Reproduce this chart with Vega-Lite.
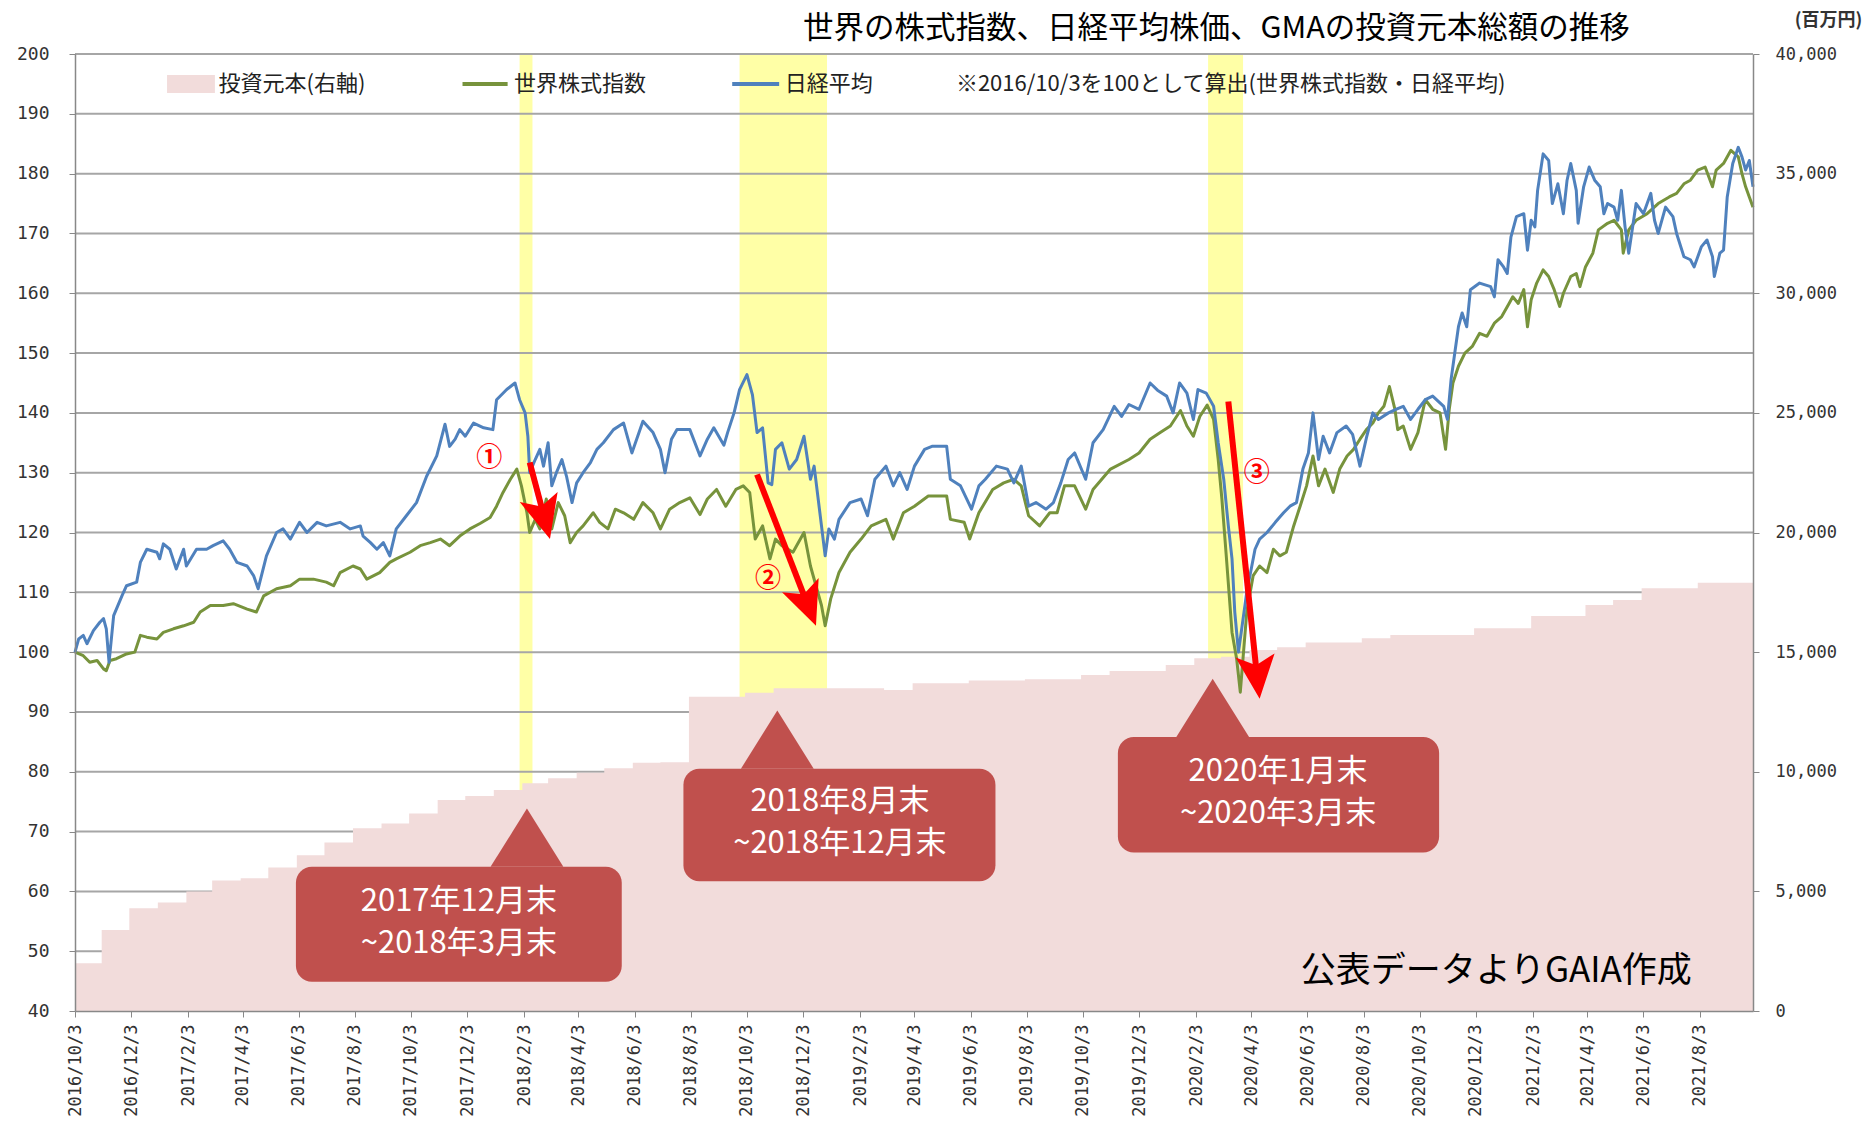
{
  "$schema": "https://vega.github.io/schema/vega-lite/v6.json",
  "width": 1678,
  "height": 957,
  "autosize": {"type": "none"},
  "padding": {"left": 75, "top": 54, "right": 121, "bottom": 114},
  "background": "white",
  "title": {"text": "世界の株式指数、日経平均株価、GMAの投資元本総額の推移", "anchor": "start", "frame": "group", "dx": 728, "offset": -33, "fontSize": 30.5, "font": "Noto Sans CJK JP", "fontWeight": "normal", "color": "#000000"},
  "config": {"view": {"stroke": null}},
  "resolve": {"scale": {"y": "independent"}, "axis": {"y": "independent"}},
  "datasets": {
    "bands": [
      {"date": "2018-01-29", "date2": "2018-02-12"},
      {"date": "2018-09-25", "date2": "2018-12-29"},
      {"date": "2020-02-16", "date2": "2020-03-25"}
    ],
    "grid": [{"v": 50}, {"v": 60}, {"v": 70}, {"v": 80}, {"v": 90}, {"v": 100}, {"v": 110}, {"v": 120}, {"v": 130}, {"v": 140}, {"v": 150}, {"v": 160}, {"v": 170}, {"v": 180}, {"v": 190}, {"v": 200}],
    "principal": [
      {"date": "2016-10-03", "amt": 2000}, {"date": "2016-11-01", "amt": 3390}, {"date": "2016-12-01", "amt": 4290},
      {"date": "2017-01-01", "amt": 4540}, {"date": "2017-02-01", "amt": 4990}, {"date": "2017-03-01", "amt": 5450},
      {"date": "2017-04-01", "amt": 5550}, {"date": "2017-05-01", "amt": 6000}, {"date": "2017-06-01", "amt": 6510},
      {"date": "2017-07-01", "amt": 7040}, {"date": "2017-08-01", "amt": 7640}, {"date": "2017-09-01", "amt": 7840},
      {"date": "2017-10-01", "amt": 8260}, {"date": "2017-11-01", "amt": 8820}, {"date": "2017-12-01", "amt": 8990},
      {"date": "2018-01-01", "amt": 9240}, {"date": "2018-02-01", "amt": 9520}, {"date": "2018-03-01", "amt": 9730},
      {"date": "2018-04-01", "amt": 9960}, {"date": "2018-05-01", "amt": 10150}, {"date": "2018-06-01", "amt": 10380},
      {"date": "2018-07-01", "amt": 10400}, {"date": "2018-08-01", "amt": 13140}, {"date": "2018-09-01", "amt": 13140},
      {"date": "2018-10-01", "amt": 13300}, {"date": "2018-11-01", "amt": 13490}, {"date": "2018-12-01", "amt": 13490},
      {"date": "2019-01-01", "amt": 13490}, {"date": "2019-02-01", "amt": 13490}, {"date": "2019-03-01", "amt": 13420},
      {"date": "2019-04-01", "amt": 13700}, {"date": "2019-05-01", "amt": 13700}, {"date": "2019-06-01", "amt": 13810},
      {"date": "2019-07-01", "amt": 13810}, {"date": "2019-08-01", "amt": 13870}, {"date": "2019-09-01", "amt": 13870},
      {"date": "2019-10-01", "amt": 14040}, {"date": "2019-11-01", "amt": 14210}, {"date": "2019-12-01", "amt": 14210},
      {"date": "2020-01-01", "amt": 14460}, {"date": "2020-02-01", "amt": 14740}, {"date": "2020-03-01", "amt": 14810},
      {"date": "2020-04-01", "amt": 15090}, {"date": "2020-05-01", "amt": 15200}, {"date": "2020-06-01", "amt": 15400},
      {"date": "2020-07-01", "amt": 15400}, {"date": "2020-08-01", "amt": 15580}, {"date": "2020-09-01", "amt": 15720},
      {"date": "2020-10-01", "amt": 15720}, {"date": "2020-11-01", "amt": 15720}, {"date": "2020-12-01", "amt": 16000},
      {"date": "2021-01-01", "amt": 16000}, {"date": "2021-02-01", "amt": 16510}, {"date": "2021-03-01", "amt": 16510},
      {"date": "2021-04-01", "amt": 16970}, {"date": "2021-05-01", "amt": 17180}, {"date": "2021-06-01", "amt": 17670},
      {"date": "2021-07-01", "amt": 17670}, {"date": "2021-08-01", "amt": 17900}, {"date": "2021-09-01", "amt": 17900},
      {"date": "2021-09-30", "amt": 17900}
    ],
    "world": [
      {"date": "2016-10-03", "v": 100}, {"date": "2016-10-12", "v": 99.4}, {"date": "2016-10-19", "v": 98.3}, {"date": "2016-10-27", "v": 98.6},
      {"date": "2016-11-03", "v": 97.2}, {"date": "2016-11-06", "v": 96.9}, {"date": "2016-11-10", "v": 98.6}, {"date": "2016-11-17", "v": 98.9},
      {"date": "2016-11-28", "v": 99.7}, {"date": "2016-12-07", "v": 100}, {"date": "2016-12-13", "v": 102.8}, {"date": "2016-12-20", "v": 102.5},
      {"date": "2016-12-31", "v": 102.2}, {"date": "2017-01-07", "v": 103.3}, {"date": "2017-01-18", "v": 103.9}, {"date": "2017-01-29", "v": 104.4},
      {"date": "2017-02-09", "v": 105}, {"date": "2017-02-16", "v": 106.7}, {"date": "2017-02-27", "v": 107.8}, {"date": "2017-03-13", "v": 107.8},
      {"date": "2017-03-24", "v": 108.1}, {"date": "2017-04-08", "v": 107.2}, {"date": "2017-04-18", "v": 106.7}, {"date": "2017-04-26", "v": 109.4},
      {"date": "2017-05-10", "v": 110.6}, {"date": "2017-05-25", "v": 111.1}, {"date": "2017-06-04", "v": 112.2}, {"date": "2017-06-19", "v": 112.2},
      {"date": "2017-07-03", "v": 111.7}, {"date": "2017-07-11", "v": 111.1}, {"date": "2017-07-18", "v": 113.3}, {"date": "2017-08-01", "v": 114.4},
      {"date": "2017-08-09", "v": 113.9}, {"date": "2017-08-16", "v": 112.2}, {"date": "2017-08-30", "v": 113.3}, {"date": "2017-09-10", "v": 115},
      {"date": "2017-09-17", "v": 115.6}, {"date": "2017-10-02", "v": 116.7}, {"date": "2017-10-13", "v": 117.8}, {"date": "2017-10-24", "v": 118.3},
      {"date": "2017-11-04", "v": 118.9}, {"date": "2017-11-14", "v": 117.8}, {"date": "2017-11-25", "v": 119.4}, {"date": "2017-12-06", "v": 120.6},
      {"date": "2017-12-17", "v": 121.5}, {"date": "2017-12-28", "v": 122.5}, {"date": "2018-01-04", "v": 124.4}, {"date": "2018-01-11", "v": 126.7},
      {"date": "2018-01-19", "v": 128.9}, {"date": "2018-01-26", "v": 130.6}, {"date": "2018-01-31", "v": 127.8}, {"date": "2018-02-06", "v": 123.3},
      {"date": "2018-02-09", "v": 120}, {"date": "2018-02-15", "v": 122.2}, {"date": "2018-02-20", "v": 120.6}, {"date": "2018-02-27", "v": 125.6},
      {"date": "2018-03-05", "v": 120.6}, {"date": "2018-03-12", "v": 125}, {"date": "2018-03-19", "v": 122.8}, {"date": "2018-03-25", "v": 118.3},
      {"date": "2018-04-01", "v": 120}, {"date": "2018-04-08", "v": 121.1}, {"date": "2018-04-19", "v": 123.3}, {"date": "2018-04-26", "v": 121.7},
      {"date": "2018-05-05", "v": 120.6}, {"date": "2018-05-13", "v": 123.9}, {"date": "2018-05-22", "v": 123.3}, {"date": "2018-06-02", "v": 122.2},
      {"date": "2018-06-12", "v": 125}, {"date": "2018-06-23", "v": 123.3}, {"date": "2018-07-01", "v": 120.6}, {"date": "2018-07-11", "v": 123.9},
      {"date": "2018-07-22", "v": 125}, {"date": "2018-08-02", "v": 125.8}, {"date": "2018-08-13", "v": 123}, {"date": "2018-08-21", "v": 125.6},
      {"date": "2018-08-31", "v": 127.2}, {"date": "2018-09-10", "v": 124.4}, {"date": "2018-09-21", "v": 127.2}, {"date": "2018-09-29", "v": 127.8},
      {"date": "2018-10-06", "v": 126.7}, {"date": "2018-10-12", "v": 118.9}, {"date": "2018-10-20", "v": 121.1}, {"date": "2018-10-28", "v": 115.6},
      {"date": "2018-11-03", "v": 118.9}, {"date": "2018-11-10", "v": 117.8}, {"date": "2018-11-22", "v": 116.7}, {"date": "2018-12-04", "v": 120},
      {"date": "2018-12-11", "v": 114.4}, {"date": "2018-12-23", "v": 107.8}, {"date": "2018-12-27", "v": 104.4}, {"date": "2019-01-02", "v": 108.9},
      {"date": "2019-01-11", "v": 113.3}, {"date": "2019-01-23", "v": 116.7}, {"date": "2019-02-04", "v": 118.9}, {"date": "2019-02-15", "v": 121.1},
      {"date": "2019-03-03", "v": 122.2}, {"date": "2019-03-11", "v": 118.9}, {"date": "2019-03-22", "v": 123.3}, {"date": "2019-04-03", "v": 124.4},
      {"date": "2019-04-18", "v": 126.1}, {"date": "2019-05-08", "v": 126.1}, {"date": "2019-05-12", "v": 122.2}, {"date": "2019-05-27", "v": 121.7},
      {"date": "2019-06-02", "v": 118.9}, {"date": "2019-06-12", "v": 123.3}, {"date": "2019-06-27", "v": 127.2}, {"date": "2019-07-09", "v": 128.3},
      {"date": "2019-07-20", "v": 128.9}, {"date": "2019-07-28", "v": 127.8}, {"date": "2019-08-05", "v": 122.8}, {"date": "2019-08-17", "v": 121.1},
      {"date": "2019-08-28", "v": 123.3}, {"date": "2019-09-05", "v": 123.3}, {"date": "2019-09-13", "v": 127.8}, {"date": "2019-09-24", "v": 127.8},
      {"date": "2019-10-06", "v": 123.9}, {"date": "2019-10-14", "v": 127.2}, {"date": "2019-11-02", "v": 130.6}, {"date": "2019-11-22", "v": 132.2},
      {"date": "2019-12-03", "v": 133.3}, {"date": "2019-12-15", "v": 135.6}, {"date": "2019-12-26", "v": 136.7}, {"date": "2020-01-06", "v": 137.8},
      {"date": "2020-01-17", "v": 140.4}, {"date": "2020-01-24", "v": 137.8}, {"date": "2020-01-31", "v": 136.1}, {"date": "2020-02-07", "v": 139.4},
      {"date": "2020-02-15", "v": 141.3}, {"date": "2020-02-22", "v": 138.9}, {"date": "2020-02-27", "v": 132.2}, {"date": "2020-03-02", "v": 125.6},
      {"date": "2020-03-07", "v": 115.6}, {"date": "2020-03-13", "v": 103.3}, {"date": "2020-03-18", "v": 98.9}, {"date": "2020-03-22", "v": 93.3},
      {"date": "2020-03-29", "v": 106.7}, {"date": "2020-04-05", "v": 112.8}, {"date": "2020-04-12", "v": 114.4}, {"date": "2020-04-20", "v": 113.3},
      {"date": "2020-04-27", "v": 117.2}, {"date": "2020-05-04", "v": 116.1}, {"date": "2020-05-11", "v": 116.7}, {"date": "2020-05-19", "v": 121.1},
      {"date": "2020-05-26", "v": 124.4}, {"date": "2020-06-02", "v": 127.8}, {"date": "2020-06-09", "v": 132.8}, {"date": "2020-06-15", "v": 127.8},
      {"date": "2020-06-22", "v": 130.6}, {"date": "2020-07-01", "v": 126.7}, {"date": "2020-07-08", "v": 130.6}, {"date": "2020-07-16", "v": 132.8},
      {"date": "2020-07-23", "v": 133.9}, {"date": "2020-07-30", "v": 135.6}, {"date": "2020-08-06", "v": 137.2}, {"date": "2020-08-13", "v": 138.3},
      {"date": "2020-08-19", "v": 140}, {"date": "2020-08-25", "v": 141.1}, {"date": "2020-08-31", "v": 144.4}, {"date": "2020-09-06", "v": 140.6},
      {"date": "2020-09-09", "v": 137.2}, {"date": "2020-09-15", "v": 137.8}, {"date": "2020-09-23", "v": 133.9}, {"date": "2020-10-01", "v": 136.7},
      {"date": "2020-10-09", "v": 142.2}, {"date": "2020-10-17", "v": 140.6}, {"date": "2020-10-25", "v": 140}, {"date": "2020-10-31", "v": 133.9},
      {"date": "2020-11-04", "v": 140.6}, {"date": "2020-11-08", "v": 145}, {"date": "2020-11-14", "v": 147.8}, {"date": "2020-11-21", "v": 150},
      {"date": "2020-11-29", "v": 151.1}, {"date": "2020-12-07", "v": 153.3}, {"date": "2020-12-15", "v": 152.8}, {"date": "2020-12-23", "v": 155},
      {"date": "2020-12-31", "v": 156.1}, {"date": "2021-01-08", "v": 158.3}, {"date": "2021-01-12", "v": 159.4}, {"date": "2021-01-18", "v": 158.3},
      {"date": "2021-01-24", "v": 160.6}, {"date": "2021-01-28", "v": 154.4}, {"date": "2021-02-01", "v": 158.9}, {"date": "2021-02-07", "v": 161.7},
      {"date": "2021-02-14", "v": 163.9}, {"date": "2021-02-20", "v": 162.8}, {"date": "2021-02-26", "v": 160.6}, {"date": "2021-03-04", "v": 157.8},
      {"date": "2021-03-08", "v": 160}, {"date": "2021-03-16", "v": 162.8}, {"date": "2021-03-22", "v": 163.3}, {"date": "2021-03-26", "v": 161.1},
      {"date": "2021-04-01", "v": 164.4}, {"date": "2021-04-09", "v": 166.7}, {"date": "2021-04-15", "v": 170.6}, {"date": "2021-04-25", "v": 171.7},
      {"date": "2021-05-02", "v": 172.2}, {"date": "2021-05-10", "v": 170.6}, {"date": "2021-05-12", "v": 166.7}, {"date": "2021-05-18", "v": 170.6},
      {"date": "2021-05-26", "v": 172.2}, {"date": "2021-06-07", "v": 173.3}, {"date": "2021-06-19", "v": 175}, {"date": "2021-07-01", "v": 176.1},
      {"date": "2021-07-09", "v": 176.7}, {"date": "2021-07-17", "v": 178.3}, {"date": "2021-07-24", "v": 178.9}, {"date": "2021-08-01", "v": 180.6},
      {"date": "2021-08-09", "v": 181.1}, {"date": "2021-08-17", "v": 177.8}, {"date": "2021-08-21", "v": 180.6}, {"date": "2021-08-29", "v": 181.7},
      {"date": "2021-09-06", "v": 183.9}, {"date": "2021-09-14", "v": 182.8}, {"date": "2021-09-18", "v": 180}, {"date": "2021-09-22", "v": 177.8},
      {"date": "2021-09-26", "v": 176.1}, {"date": "2021-09-30", "v": 174.4}
    ],
    "nikkei": [
      {"date": "2016-10-03", "v": 100}, {"date": "2016-10-07", "v": 102.2}, {"date": "2016-10-12", "v": 102.8}, {"date": "2016-10-16", "v": 101.4},
      {"date": "2016-10-23", "v": 103.6}, {"date": "2016-10-30", "v": 105}, {"date": "2016-11-03", "v": 105.6}, {"date": "2016-11-06", "v": 103.9},
      {"date": "2016-11-09", "v": 98.3}, {"date": "2016-11-14", "v": 106.1}, {"date": "2016-11-23", "v": 109.4}, {"date": "2016-11-28", "v": 111.1},
      {"date": "2016-12-09", "v": 111.7}, {"date": "2016-12-13", "v": 115}, {"date": "2016-12-20", "v": 117.2}, {"date": "2016-12-31", "v": 116.7},
      {"date": "2017-01-03", "v": 115.6}, {"date": "2017-01-07", "v": 118.1}, {"date": "2017-01-14", "v": 117.2}, {"date": "2017-01-21", "v": 113.9},
      {"date": "2017-01-29", "v": 117.2}, {"date": "2017-02-01", "v": 114.4}, {"date": "2017-02-12", "v": 117.2}, {"date": "2017-02-23", "v": 117.2},
      {"date": "2017-03-02", "v": 117.8}, {"date": "2017-03-13", "v": 118.6}, {"date": "2017-03-20", "v": 117.2}, {"date": "2017-03-28", "v": 115},
      {"date": "2017-04-08", "v": 114.4}, {"date": "2017-04-15", "v": 112.8}, {"date": "2017-04-20", "v": 110.6}, {"date": "2017-04-29", "v": 116.1},
      {"date": "2017-05-10", "v": 120}, {"date": "2017-05-17", "v": 120.6}, {"date": "2017-05-25", "v": 118.9}, {"date": "2017-06-04", "v": 121.7},
      {"date": "2017-06-12", "v": 120}, {"date": "2017-06-23", "v": 121.7}, {"date": "2017-07-03", "v": 121.1}, {"date": "2017-07-18", "v": 121.7},
      {"date": "2017-07-29", "v": 120.6}, {"date": "2017-08-09", "v": 121.1}, {"date": "2017-08-12", "v": 119.4}, {"date": "2017-08-20", "v": 118.3},
      {"date": "2017-08-27", "v": 117.2}, {"date": "2017-09-03", "v": 118.3}, {"date": "2017-09-10", "v": 116.1}, {"date": "2017-09-17", "v": 120.6},
      {"date": "2017-09-28", "v": 122.8}, {"date": "2017-10-09", "v": 125}, {"date": "2017-10-20", "v": 129.4}, {"date": "2017-10-31", "v": 132.8},
      {"date": "2017-11-09", "v": 138.1}, {"date": "2017-11-14", "v": 134.4}, {"date": "2017-11-20", "v": 135.6}, {"date": "2017-11-25", "v": 137.2},
      {"date": "2017-12-01", "v": 136.1}, {"date": "2017-12-10", "v": 138.3}, {"date": "2017-12-21", "v": 137.5}, {"date": "2017-12-31", "v": 137.2},
      {"date": "2018-01-04", "v": 142.2}, {"date": "2018-01-15", "v": 143.9}, {"date": "2018-01-24", "v": 145}, {"date": "2018-01-29", "v": 142.2},
      {"date": "2018-02-04", "v": 140}, {"date": "2018-02-07", "v": 136.1}, {"date": "2018-02-09", "v": 130}, {"date": "2018-02-15", "v": 132.2},
      {"date": "2018-02-20", "v": 133.9}, {"date": "2018-02-24", "v": 131.1}, {"date": "2018-03-01", "v": 135}, {"date": "2018-03-05", "v": 127.8},
      {"date": "2018-03-10", "v": 130}, {"date": "2018-03-16", "v": 132.2}, {"date": "2018-03-21", "v": 129.4}, {"date": "2018-03-27", "v": 125},
      {"date": "2018-04-01", "v": 128.3}, {"date": "2018-04-08", "v": 130}, {"date": "2018-04-16", "v": 131.7}, {"date": "2018-04-23", "v": 133.9},
      {"date": "2018-04-30", "v": 135}, {"date": "2018-05-11", "v": 137.2}, {"date": "2018-05-22", "v": 138.3}, {"date": "2018-05-31", "v": 133.3},
      {"date": "2018-06-12", "v": 138.6}, {"date": "2018-06-23", "v": 136.7}, {"date": "2018-07-01", "v": 133.9}, {"date": "2018-07-06", "v": 130},
      {"date": "2018-07-13", "v": 135.6}, {"date": "2018-07-19", "v": 137.2}, {"date": "2018-08-02", "v": 137.2}, {"date": "2018-08-13", "v": 132.8},
      {"date": "2018-08-21", "v": 135.6}, {"date": "2018-08-28", "v": 137.5}, {"date": "2018-09-08", "v": 134.6}, {"date": "2018-09-12", "v": 136.7},
      {"date": "2018-09-19", "v": 140}, {"date": "2018-09-25", "v": 143.9}, {"date": "2018-10-03", "v": 146.4}, {"date": "2018-10-09", "v": 143},
      {"date": "2018-10-14", "v": 136.7}, {"date": "2018-10-20", "v": 137.5}, {"date": "2018-10-26", "v": 128.3}, {"date": "2018-10-30", "v": 128},
      {"date": "2018-11-03", "v": 133.9}, {"date": "2018-11-10", "v": 135}, {"date": "2018-11-18", "v": 130.6}, {"date": "2018-11-26", "v": 132.2},
      {"date": "2018-12-04", "v": 136.1}, {"date": "2018-12-11", "v": 128.9}, {"date": "2018-12-15", "v": 131.1}, {"date": "2018-12-23", "v": 121.1},
      {"date": "2018-12-27", "v": 116.1}, {"date": "2018-12-31", "v": 120.6}, {"date": "2019-01-06", "v": 118.9}, {"date": "2019-01-11", "v": 122.2},
      {"date": "2019-01-23", "v": 125}, {"date": "2019-02-04", "v": 125.6}, {"date": "2019-02-11", "v": 122.8}, {"date": "2019-02-19", "v": 128.9},
      {"date": "2019-03-03", "v": 131.1}, {"date": "2019-03-11", "v": 127.8}, {"date": "2019-03-18", "v": 130}, {"date": "2019-03-26", "v": 127.2},
      {"date": "2019-04-03", "v": 131.1}, {"date": "2019-04-14", "v": 133.9}, {"date": "2019-04-22", "v": 134.4}, {"date": "2019-05-08", "v": 134.4},
      {"date": "2019-05-12", "v": 128.9}, {"date": "2019-05-23", "v": 127.8}, {"date": "2019-06-04", "v": 123.9}, {"date": "2019-06-12", "v": 127.8},
      {"date": "2019-06-19", "v": 128.9}, {"date": "2019-07-01", "v": 131.1}, {"date": "2019-07-13", "v": 130.6}, {"date": "2019-07-20", "v": 128.3},
      {"date": "2019-07-28", "v": 131.1}, {"date": "2019-08-05", "v": 124.4}, {"date": "2019-08-13", "v": 125}, {"date": "2019-08-24", "v": 123.9},
      {"date": "2019-09-01", "v": 125}, {"date": "2019-09-09", "v": 128.3}, {"date": "2019-09-17", "v": 132.2}, {"date": "2019-09-24", "v": 133.3},
      {"date": "2019-10-06", "v": 128.9}, {"date": "2019-10-14", "v": 135}, {"date": "2019-10-25", "v": 137.2}, {"date": "2019-11-06", "v": 141.1},
      {"date": "2019-11-14", "v": 139.4}, {"date": "2019-11-22", "v": 141.4}, {"date": "2019-12-03", "v": 140.6}, {"date": "2019-12-15", "v": 145},
      {"date": "2019-12-23", "v": 143.8}, {"date": "2020-01-02", "v": 142.8}, {"date": "2020-01-09", "v": 140}, {"date": "2020-01-16", "v": 145},
      {"date": "2020-01-24", "v": 143.3}, {"date": "2020-01-31", "v": 138.9}, {"date": "2020-02-05", "v": 143.9}, {"date": "2020-02-14", "v": 143.3},
      {"date": "2020-02-22", "v": 141.1}, {"date": "2020-02-27", "v": 135}, {"date": "2020-03-04", "v": 128.9}, {"date": "2020-03-09", "v": 121.1},
      {"date": "2020-03-13", "v": 115.6}, {"date": "2020-03-16", "v": 106.7}, {"date": "2020-03-20", "v": 100}, {"date": "2020-03-23", "v": 103.3},
      {"date": "2020-03-29", "v": 110}, {"date": "2020-04-07", "v": 117.2}, {"date": "2020-04-12", "v": 118.9}, {"date": "2020-04-20", "v": 120},
      {"date": "2020-04-29", "v": 121.7}, {"date": "2020-05-08", "v": 123.3}, {"date": "2020-05-15", "v": 124.4}, {"date": "2020-05-22", "v": 125},
      {"date": "2020-05-29", "v": 130.6}, {"date": "2020-06-04", "v": 133.3}, {"date": "2020-06-09", "v": 140}, {"date": "2020-06-15", "v": 132.2},
      {"date": "2020-06-20", "v": 136.1}, {"date": "2020-06-27", "v": 133.3}, {"date": "2020-07-05", "v": 136.7}, {"date": "2020-07-15", "v": 137.8},
      {"date": "2020-07-22", "v": 136.4}, {"date": "2020-07-30", "v": 131.1}, {"date": "2020-08-06", "v": 135.8}, {"date": "2020-08-13", "v": 140},
      {"date": "2020-08-19", "v": 138.9}, {"date": "2020-08-30", "v": 140}, {"date": "2020-09-07", "v": 140.6}, {"date": "2020-09-15", "v": 141.1},
      {"date": "2020-09-23", "v": 138.9}, {"date": "2020-10-01", "v": 140.6}, {"date": "2020-10-09", "v": 142.2}, {"date": "2020-10-17", "v": 142.8},
      {"date": "2020-10-29", "v": 141.1}, {"date": "2020-11-02", "v": 138.9}, {"date": "2020-11-06", "v": 145.6}, {"date": "2020-11-10", "v": 150},
      {"date": "2020-11-14", "v": 154.4}, {"date": "2020-11-18", "v": 156.7}, {"date": "2020-11-23", "v": 154.4}, {"date": "2020-11-27", "v": 160.6},
      {"date": "2020-12-07", "v": 161.7}, {"date": "2020-12-19", "v": 161.1}, {"date": "2020-12-23", "v": 159.4}, {"date": "2020-12-27", "v": 165.6},
      {"date": "2021-01-02", "v": 164.4}, {"date": "2021-01-06", "v": 163.3}, {"date": "2021-01-10", "v": 169.4}, {"date": "2021-01-16", "v": 172.8},
      {"date": "2021-01-24", "v": 173.3}, {"date": "2021-01-28", "v": 167.2}, {"date": "2021-02-01", "v": 172.2}, {"date": "2021-02-05", "v": 171.1},
      {"date": "2021-02-08", "v": 177.2}, {"date": "2021-02-14", "v": 183.3}, {"date": "2021-02-20", "v": 182.2}, {"date": "2021-02-24", "v": 175},
      {"date": "2021-03-02", "v": 178.3}, {"date": "2021-03-08", "v": 173.3}, {"date": "2021-03-12", "v": 178.9}, {"date": "2021-03-16", "v": 181.7},
      {"date": "2021-03-22", "v": 177.2}, {"date": "2021-03-24", "v": 171.7}, {"date": "2021-03-30", "v": 177.8}, {"date": "2021-04-05", "v": 181.1},
      {"date": "2021-04-11", "v": 178.9}, {"date": "2021-04-17", "v": 177.8}, {"date": "2021-04-21", "v": 173.3}, {"date": "2021-04-25", "v": 175},
      {"date": "2021-05-02", "v": 174.4}, {"date": "2021-05-06", "v": 172.2}, {"date": "2021-05-10", "v": 177.2}, {"date": "2021-05-14", "v": 171.1},
      {"date": "2021-05-18", "v": 166.7}, {"date": "2021-05-26", "v": 175}, {"date": "2021-06-03", "v": 173.3}, {"date": "2021-06-11", "v": 176.7},
      {"date": "2021-06-15", "v": 172.2}, {"date": "2021-06-19", "v": 170}, {"date": "2021-06-27", "v": 174.4}, {"date": "2021-07-05", "v": 172.8},
      {"date": "2021-07-09", "v": 170}, {"date": "2021-07-17", "v": 166.1}, {"date": "2021-07-24", "v": 165.6}, {"date": "2021-07-28", "v": 164.4},
      {"date": "2021-08-05", "v": 167.8}, {"date": "2021-08-11", "v": 168.9}, {"date": "2021-08-17", "v": 166.1}, {"date": "2021-08-19", "v": 162.8},
      {"date": "2021-08-25", "v": 166.7}, {"date": "2021-08-29", "v": 167.2}, {"date": "2021-09-02", "v": 176.1}, {"date": "2021-09-08", "v": 181.7},
      {"date": "2021-09-14", "v": 184.4}, {"date": "2021-09-18", "v": 182.8}, {"date": "2021-09-22", "v": 180.6}, {"date": "2021-09-26", "v": 182.2},
      {"date": "2021-09-30", "v": 177.8}
    ],
    "arrows": [
      {"date": "2018-02-09", "v": 131.7, "date2": "2018-02-27", "v2": 121.3},
      {"date": "2018-10-14", "v": 129.7, "date2": "2018-12-11", "v2": 106.7},
      {"date": "2020-03-09", "v": 141.9, "date2": "2020-04-10", "v2": 94.7}
    ],
    "heads": [
      {"id": 1, "date": "2018-03-03", "v": 118.9},
      {"id": 2, "date": "2018-12-17", "v": 104.4},
      {"id": 3, "date": "2020-04-12", "v": 92.2}
    ],
    "numbers": [
      {"date": "2017-12-27", "v": 132.4, "label": "①"},
      {"date": "2018-10-26", "v": 112.3, "label": "②"},
      {"date": "2020-04-09", "v": 130, "label": "③"}
    ],
    "callouts": [
      {"date": "2017-05-31", "date2": "2018-05-20", "v": 64.1, "v2": 44.9},
      {"date": "2018-07-26", "date2": "2019-06-30", "v": 80.5, "v2": 61.7},
      {"date": "2019-11-10", "date2": "2020-10-24", "v": 85.8, "v2": 66.5}
    ],
    "pointers": [
      {"date": "2018-02-06", "v": 64.1},
      {"date": "2018-11-05", "v": 80.5},
      {"date": "2020-02-21", "v": 85.8}
    ],
    "callout_text": [
      {"date": "2017-11-24", "v": 58.2, "label": "2017年12月末"},
      {"date": "2017-11-24", "v": 51.2, "label": "~2018年3月末"},
      {"date": "2019-01-12", "v": 75.0, "label": "2018年8月末"},
      {"date": "2019-01-12", "v": 67.9, "label": "~2018年12月末"},
      {"date": "2020-05-02", "v": 80.0, "label": "2020年1月末"},
      {"date": "2020-05-02", "v": 72.9, "label": "~2020年3月末"}
    ],
    "legend_box": [{"date": "2017-01-11", "date2": "2017-03-04", "v": 196.5, "v2": 193.5}],
    "legend_lines": [
      {"series": "世界株式指数", "date": "2017-11-28", "date2": "2018-01-16", "v": 195},
      {"series": "日経平均", "date": "2018-09-17", "date2": "2018-11-07", "v": 195}
    ],
    "legend_text": [
      {"date": "2017-03-08", "v": 195, "label": "投資元本(右軸)"},
      {"date": "2018-01-23", "v": 195, "label": "世界株式指数"},
      {"date": "2018-11-13", "v": 195, "label": "日経平均"},
      {"date": "2019-05-18", "v": 195, "label": "※2016/10/3を100として算出(世界株式指数・日経平均)"}
    ],
    "source": [{"date": "2020-12-25", "v": 46.7, "label": "公表データよりGAIA作成"}]
  },
  "layer": [
    {
      "data": {"name": "bands"},
      "mark": {"type": "rect", "color": "#ffffa6"},
      "encoding": {
        "x": {"field": "date", "type": "temporal", "scale": {"type": "utc", "domain": [1475452800000, 1632960000000]},
          "axis": {"values": [1475452800000, 1480723200000, 1486080000000, 1491177600000, 1496448000000, 1501718400000, 1506988800000, 1512259200000, 1517616000000, 1522713600000, 1527984000000, 1533254400000, 1538524800000, 1543795200000, 1549152000000, 1554249600000, 1559520000000, 1564790400000, 1570060800000, 1575331200000, 1580688000000, 1585872000000, 1591142400000, 1596412800000, 1601683200000, 1606953600000, 1612310400000, 1617408000000, 1622678400000, 1627948800000],
            "format": "%Y/%-m/%-d", "labelAngle": -90, "labelFont": "DejaVu Sans Mono", "labelFontSize": 17, "labelColor": "#333333", "labelPadding": 7, "tickSize": 6, "tickColor": "#888888", "domainColor": "#888888", "domainWidth": 1.5, "grid": false, "title": null, "labelOverlap": false, "labelFlush": false, "zindex": 1}},
        "x2": {"field": "date2"}
      }
    },
    {
      "data": {"name": "grid"},
      "mark": {"type": "rule", "color": "#a6a6a6", "strokeWidth": 2},
      "encoding": {
        "y": {"field": "v", "type": "quantitative", "scale": {"domain": [40, 200], "nice": false, "zero": false}, "axis": null}
      }
    },
    {
      "data": {"name": "principal"},
      "mark": {"type": "area", "interpolate": "step-after", "color": "#f2dcdb", "opacity": 1},
      "encoding": {
        "x": {"field": "date", "type": "temporal", "scale": {"type": "utc", "domain": [1475452800000, 1632960000000]}},
        "y": {"field": "amt", "type": "quantitative", "scale": {"domain": [0, 40000], "nice": false}, "axis": {"orient": "right", "values": [0, 5000, 10000, 15000, 20000, 25000, 30000, 35000, 40000], "format": ",d", "labelFont": "DejaVu Sans Mono", "labelFontSize": 17, "labelColor": "#333333", "labelPadding": 16, "tickSize": 6, "tickColor": "#888888", "domainColor": "#888888", "domainWidth": 1.5, "grid": false, "labelFlush": false, "labelOverlap": false, "zindex": 1, "title": "(百万円)", "titleAngle": 0, "titleX": 75, "titleY": -34, "titleAlign": "center", "titleBaseline": "middle", "titleFont": "Noto Sans CJK JP", "titleFontSize": 18, "titleFontWeight": "bold", "titleColor": "#333333"}}
      }
    },
    {
      "data": {"name": "world"},
      "mark": {"type": "line", "color": "#77933c", "strokeWidth": 3, "strokeJoin": "round"},
      "encoding": {
        "x": {"field": "date", "type": "temporal", "scale": {"type": "utc", "domain": [1475452800000, 1632960000000]}},
        "y": {"field": "v", "type": "quantitative", "scale": {"domain": [40, 200], "nice": false, "zero": false},
          "axis": {"orient": "left", "values": [40, 50, 60, 70, 80, 90, 100, 110, 120, 130, 140, 150, 160, 170, 180, 190, 200], "labelFont": "DejaVu Sans Mono", "labelFontSize": 18, "labelColor": "#333333", "labelPadding": 20, "tickSize": 6, "tickColor": "#888888", "domainColor": "#888888", "domainWidth": 1.5, "grid": false, "title": null, "labelOverlap": false, "labelFlush": false, "zindex": 1}}
      }
    },
    {
      "data": {"name": "nikkei"},
      "mark": {"type": "line", "color": "#4f81bd", "strokeWidth": 3, "strokeJoin": "round"},
      "encoding": {
        "x": {"field": "date", "type": "temporal", "scale": {"type": "utc", "domain": [1475452800000, 1632960000000]}},
        "y": {"field": "v", "type": "quantitative", "scale": {"domain": [40, 200], "nice": false, "zero": false}, "axis": null}
      }
    },
    {
      "data": {"name": "arrows"},
      "mark": {"type": "rule", "color": "#ff0000", "strokeWidth": 6},
      "encoding": {
        "x": {"field": "date", "type": "temporal", "scale": {"type": "utc", "domain": [1475452800000, 1632960000000]}},
        "x2": {"field": "date2"},
        "y": {"field": "v", "type": "quantitative", "scale": {"domain": [40, 200], "nice": false, "zero": false}, "axis": null},
        "y2": {"field": "v2"}
      }
    },
    {
      "data": {"name": "heads"},
      "transform": [{"filter": "datum.id == 1"}],
      "mark": {"type": "point", "shape": "M0,0L-0.9,-2L0,-1.55L0.9,-2Z", "filled": true, "color": "#ff0000", "opacity": 1, "size": 1900, "angle": 345},
      "encoding": {
        "x": {"field": "date", "type": "temporal", "scale": {"type": "utc", "domain": [1475452800000, 1632960000000]}},
        "y": {"field": "v", "type": "quantitative", "scale": {"domain": [40, 200], "nice": false, "zero": false}, "axis": null}
      }
    },
    {
      "data": {"name": "heads"},
      "transform": [{"filter": "datum.id == 2"}],
      "mark": {"type": "point", "shape": "M0,0L-0.9,-2L0,-1.55L0.9,-2Z", "filled": true, "color": "#ff0000", "opacity": 1, "size": 1900, "angle": 339},
      "encoding": {
        "x": {"field": "date", "type": "temporal", "scale": {"type": "utc", "domain": [1475452800000, 1632960000000]}},
        "y": {"field": "v", "type": "quantitative", "scale": {"domain": [40, 200], "nice": false, "zero": false}, "axis": null}
      }
    },
    {
      "data": {"name": "heads"},
      "transform": [{"filter": "datum.id == 3"}],
      "mark": {"type": "point", "shape": "M0,0L-0.9,-2L0,-1.55L0.9,-2Z", "filled": true, "color": "#ff0000", "opacity": 1, "size": 1900, "angle": 354},
      "encoding": {
        "x": {"field": "date", "type": "temporal", "scale": {"type": "utc", "domain": [1475452800000, 1632960000000]}},
        "y": {"field": "v", "type": "quantitative", "scale": {"domain": [40, 200], "nice": false, "zero": false}, "axis": null}
      }
    },
    {
      "data": {"name": "numbers"},
      "mark": {"type": "text", "color": "#ff0000", "fontSize": 26, "fontWeight": "bold", "font": "Noto Sans CJK JP", "align": "center", "baseline": "middle"},
      "encoding": {
        "x": {"field": "date", "type": "temporal", "scale": {"type": "utc", "domain": [1475452800000, 1632960000000]}},
        "y": {"field": "v", "type": "quantitative", "scale": {"domain": [40, 200], "nice": false, "zero": false}, "axis": null},
        "text": {"field": "label"}
      }
    },
    {
      "data": {"name": "pointers"},
      "mark": {"type": "point", "shape": "M0,-1.6L1,0L-1,0Z", "filled": true, "color": "#c0504d", "opacity": 1, "size": 5300},
      "encoding": {
        "x": {"field": "date", "type": "temporal", "scale": {"type": "utc", "domain": [1475452800000, 1632960000000]}},
        "y": {"field": "v", "type": "quantitative", "scale": {"domain": [40, 200], "nice": false, "zero": false}, "axis": null}
      }
    },
    {
      "data": {"name": "callouts"},
      "mark": {"type": "rect", "color": "#c0504d", "cornerRadius": 16},
      "encoding": {
        "x": {"field": "date", "type": "temporal", "scale": {"type": "utc", "domain": [1475452800000, 1632960000000]}},
        "x2": {"field": "date2"},
        "y": {"field": "v", "type": "quantitative", "scale": {"domain": [40, 200], "nice": false, "zero": false}, "axis": null},
        "y2": {"field": "v2"}
      }
    },
    {
      "data": {"name": "callout_text"},
      "mark": {"type": "text", "color": "#ffffff", "fontSize": 31, "font": "Noto Sans CJK JP", "align": "center", "baseline": "middle"},
      "encoding": {
        "x": {"field": "date", "type": "temporal", "scale": {"type": "utc", "domain": [1475452800000, 1632960000000]}},
        "y": {"field": "v", "type": "quantitative", "scale": {"domain": [40, 200], "nice": false, "zero": false}, "axis": null},
        "text": {"field": "label"}
      }
    },
    {
      "data": {"name": "legend_box"},
      "mark": {"type": "rect", "color": "#f2dcdb"},
      "encoding": {
        "x": {"field": "date", "type": "temporal", "scale": {"type": "utc", "domain": [1475452800000, 1632960000000]}},
        "x2": {"field": "date2"},
        "y": {"field": "v", "type": "quantitative", "scale": {"domain": [40, 200], "nice": false, "zero": false}, "axis": null},
        "y2": {"field": "v2"}
      }
    },
    {
      "data": {"name": "legend_lines"},
      "mark": {"type": "rule", "strokeWidth": 4},
      "encoding": {
        "x": {"field": "date", "type": "temporal", "scale": {"type": "utc", "domain": [1475452800000, 1632960000000]}},
        "x2": {"field": "date2"},
        "y": {"field": "v", "type": "quantitative", "scale": {"domain": [40, 200], "nice": false, "zero": false}, "axis": null},
        "color": {"field": "series", "type": "nominal", "scale": {"domain": ["世界株式指数", "日経平均"], "range": ["#77933c", "#4f81bd"]}, "legend": null}
      }
    },
    {
      "data": {"name": "legend_text"},
      "mark": {"type": "text", "color": "#222222", "fontSize": 22, "font": "Noto Sans CJK JP", "align": "left", "baseline": "middle"},
      "encoding": {
        "x": {"field": "date", "type": "temporal", "scale": {"type": "utc", "domain": [1475452800000, 1632960000000]}},
        "y": {"field": "v", "type": "quantitative", "scale": {"domain": [40, 200], "nice": false, "zero": false}, "axis": null},
        "text": {"field": "label"}
      }
    },
    {
      "data": {"name": "source"},
      "mark": {"type": "text", "color": "#000000", "fontSize": 35, "font": "Noto Sans CJK JP", "align": "center", "baseline": "middle"},
      "encoding": {
        "x": {"field": "date", "type": "temporal", "scale": {"type": "utc", "domain": [1475452800000, 1632960000000]}},
        "y": {"field": "v", "type": "quantitative", "scale": {"domain": [40, 200], "nice": false, "zero": false}, "axis": null},
        "text": {"field": "label"}
      }
    }
  ]
}
